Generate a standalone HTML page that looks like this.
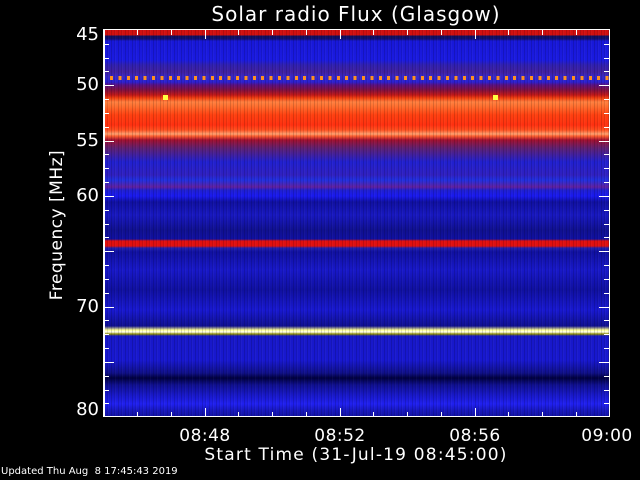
<!DOCTYPE html>
<html><head><meta charset="utf-8"><style>
body{margin:0;background:#000;width:640px;height:480px;overflow:hidden;position:relative;font-family:"DejaVu Sans","Liberation Sans",sans-serif;color:#fff}
.t{position:absolute;white-space:nowrap}
#plot{position:absolute;left:104px;top:30px;width:506px;height:387px;
background:linear-gradient(to bottom,
#d01010 0px,#d01010 5px,#101060 6px,#101070 9px,#1818d8 11px,#1a1ae0 30px,#3020b0 35px,#4020a0 42px,#3828c8 47px,#2a20d0 52px,#5a1080 55px,#801040 60px,#c01818 65px,#f04010 68px,#ff8040 72px,#ff7030 76px,#ff4010 85px,#ff3010 95px,#ff5020 100px,#ffa070 104px,#ff6030 106px,#a01030 110px,#602070 118px,#4020a0 125px,#2020d0 132px,#3020c0 145px,#2030e0 150px,#6020a0 157px,#2020d0 160px,#1a1af0 166px,#1010a0 172px,#1818c0 185px,#101090 200px,#1010a0 209px,#e01010 211px,#e01010 216px,#2020b0 218px,#1010a0 222px,#1818c8 240px,#1010a0 260px,#1818d0 280px,#101090 296px,#ffff90 300px,#fffff0 302px,#909000 304px,#1818c8 306px,#1818d0 330px,#101088 343px,#000040 348px,#101090 355px,#1818c8 365px,#2020f0 374px,#1818c0 380px,#1010a0 387px)}
#noise{position:absolute;inset:0;background:repeating-linear-gradient(to right,rgba(0,0,0,.15) 0 1px,rgba(0,0,0,0) 1px 3px,rgba(0,0,0,.1) 3px 4px,rgba(255,255,255,.03) 4px 5px,rgba(0,0,0,0) 5px 7px)}
#dots{position:absolute;left:6px;top:46px;width:500px;height:4px;background:repeating-linear-gradient(to right,#ff9020 0 3px,transparent 3px 8.4px)}
.sq{position:absolute;width:5px;height:5px;background:#ffff40}
.tk{position:absolute;background:#fff}
.n{position:absolute;left:70px;width:29px;text-align:right;font-size:18px}
.x{position:absolute;top:426px;font-size:17px;transform:translateX(-50%);letter-spacing:0.5px}
</style></head><body>
<div class="t" style="left:0;width:712px;text-align:center;top:2px;font-size:20px;letter-spacing:1px">Solar radio Flux (Glasgow)</div>
<div id="plot"><div id="noise"></div><div id="dots"></div>
<div class="sq" style="left:59px;top:65px"></div><div class="sq" style="left:389px;top:65px"></div></div>
<div style="position:absolute;left:103px;top:29px;width:507px;height:388px;border:1px solid #fff;box-sizing:border-box;border-left-width:2px"></div>
<div id="ticks"></div>
<div class="n" style="top:24px">45</div>
<div class="n" style="top:74px">50</div>
<div class="n" style="top:130px">55</div>
<div class="n" style="top:185px">60</div>
<div class="n" style="top:296px">70</div>
<div class="n" style="top:399px">80</div>
<div class="t" style="left:57px;top:225px;font-size:17px;letter-spacing:0.5px;transform:translate(-50%,-50%) rotate(-90deg)">Frequency [MHz]</div>
<div class="x" style="left:205px">08:48</div>
<div class="x" style="left:340px">08:52</div>
<div class="x" style="left:475px">08:56</div>
<div class="x" style="left:607px">09:00</div>
<div class="t" style="left:0;width:712px;text-align:center;top:445px;font-size:17px;letter-spacing:1.2px">Start Time (31-Jul-19 08:45:00)</div>
<div class="t" style="left:1px;top:466px;font-size:10px">Updated Thu Aug&nbsp; 8 17:45:43 2019</div>
<script>
var h='';
for(var m=1;m<15;m++){var x=104+m*33.73;var L=(m%4==3)?9:5;
h+='<div class="tk" style="left:'+(x-0.5)+'px;top:30px;width:1px;height:'+L+'px"></div>';
h+='<div class="tk" style="left:'+(x-0.5)+'px;top:'+(417-L)+'px;width:1px;height:'+L+'px"></div>';}
for(var i=1;i<28;i++){var y=30+i*13.83;var L=(i%4==0)?10:5;
h+='<div class="tk" style="left:104px;top:'+y+'px;width:'+L+'px;height:1px"></div>';
h+='<div class="tk" style="left:'+(609-L)+'px;top:'+y+'px;width:'+L+'px;height:1px"></div>';}
document.getElementById('ticks').innerHTML=h;
</script>
</body></html>
